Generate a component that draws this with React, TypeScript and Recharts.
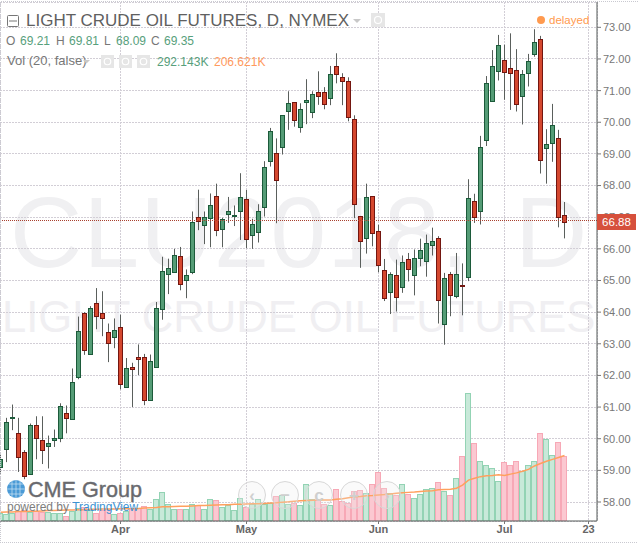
import React from "react";
import { ComposedChart, Bar, Line, XAxis, YAxis, CartesianGrid, ReferenceLine } from "recharts";

const opens = [59.1,59.68,60.66,60.19,59.59,58.88,60.44,59.97,59.77,59.96,60.02,60.82,60.63,61.95,63.98,62.68,64.3,63.98,63.38,63.21,63.54,61.64,62.27,62.59,62.59,61.22,62.27,64.11,65.2,65.26,65.78,65.01,65.26,67.01,66.75,66.97,67.67,66.62,67.09,67.04,67.18,67.59,66.44,66.53,67.32,68.77,69.04,69.21,70.34,70.63,69.84,70.63,70.32,70.95,70.95,70.76,71.77,71.42,71.29,70.09,67.04,66.34,67.67,66.57,65.34,64.63,65.18,64.8,65.68,65.17,65.72,65.61,66.13,66.35,63.63,65.21,64.51,64.86,65.12,67.51,67.19,69.43,70.66,71.61,71.96,71.71,71.64,70.82,71.55,72.15,72.62,69.18,69.33,69.49,67.06];
const highs = [59.5,60.66,61.08,60.66,59.64,60.48,60.71,60.71,60.1,60.29,61.12,61.05,62.22,63.86,64.0,64.19,64.76,64.66,63.64,63.8,63.92,62.55,62.4,62.98,62.68,62.66,64.32,65.75,65.69,66.0,66.06,65.35,67.18,67.87,67.18,67.75,68.06,66.98,67.64,67.37,68.39,67.86,66.95,67.41,68.77,69.82,69.49,70.22,70.98,70.63,70.6,71.36,70.98,71.61,71.11,71.78,72.18,71.55,71.42,70.22,67.04,68.06,67.67,66.76,65.68,65.26,65.66,65.79,65.87,65.98,66.32,66.45,66.67,66.4,65.24,65.27,65.87,65.54,68.2,67.74,69.57,71.46,72.28,72.76,72.45,72.81,72.31,71.65,72.16,72.94,72.73,69.78,70.58,69.76,67.48];
const lows = [58.9,59.26,60.27,58.95,58.72,58.88,59.35,59.2,59.06,59.74,59.89,60.17,60.63,61.88,62.65,62.68,63.46,63.24,62.42,62.86,61.56,61.64,61.0,62.01,61.06,61.22,62.27,63.76,64.57,65.26,64.69,64.44,65.2,66.59,66.15,66.05,66.4,66.05,66.82,66.72,66.28,66.02,66.0,66.2,67.02,68.6,66.81,68.98,69.76,69.86,69.67,69.94,70.13,70.55,70.41,70.54,71.23,70.54,70.03,66.97,65.4,65.85,66.08,65.26,64.35,63.94,64.02,64.61,64.97,64.53,65.45,65.12,65.79,63.64,62.97,63.87,64.44,63.9,64.98,66.82,66.77,69.25,70.66,71.32,70.71,70.39,70.34,69.93,71.13,72.07,68.38,68.06,68.75,66.68,66.33];
const closes = [59.35,60.54,60.68,59.42,58.82,60.42,60.02,59.64,59.87,60.03,61.02,60.65,61.8,63.41,62.8,64.14,63.87,63.81,63.03,63.44,61.73,62.24,62.21,62.53,61.22,62.46,64.14,65.31,65.38,65.81,64.88,65.18,66.86,66.87,67.01,67.39,66.6,66.95,67.2,67.07,67.63,66.31,66.79,67.19,68.58,69.72,68.17,70.22,70.6,70.06,70.41,70.69,70.88,70.82,70.57,71.52,71.52,71.29,70.16,67.42,66.25,67.64,66.49,65.48,64.45,65.21,64.48,65.59,65.36,65.72,65.97,66.19,66.25,64.38,65.08,64.54,65.21,64.82,67.61,67.01,69.23,71.23,71.77,72.43,71.58,71.55,70.59,71.52,71.93,72.53,68.82,69.31,69.91,67.02,66.84];
const volumes = [24,21,24,32,36,29,31,30,30,24,27,16,32,41,46,35,24,35,37,22,27,31,42,42,48,37,69,92,53,39,39,39,55,50,39,69,67,46,50,35,74,45,53,69,53,56,80,82,55,58,50,117,71,66,55,51,103,64,58,95,99,90,119,157,106,90,82,119,85,74,86,103,105,124,96,84,137,207,407,248,191,178,169,127,186,179,191,159,179,191,280,262,210,251,207];
const volumeAverage = [28,29,29,30,30,31,31,32,33,33,34,35,35,36,36,37,37,38,38,38,39,39,39,40,41,42,43,45,45,46,47,47,48,49,49,50,51,52,52,53,53,54,55,55,56,57,58,60,61,63,64,65,66,67,67,67,69,71,74,77,78,80,81,83,84,86,88,90,91,92,94,95,96,99,100,101,104,114,130,136,141,144,145,147,145,149,153,158,164,175,183,190,196,202,208];

const dateTicks = [20, 41, 63, 84, 98];
const dateLabels = ["Apr", "May", "Jun", "Jul", "23"];
const priceTicks = [58,59,60,61,62,63,64,65,66,67,68,69,70,71,72,73];
const lastPrice = 66.88;

const rows = opens.map((open, i) => ({
  i, open, high: highs[i], low: lows[i], close: closes[i], volume: volumes[i], average: volumeAverage[i],
}));

const FONT = "'Liberation Sans', Arial, sans-serif";
const X_DOMAIN: [number, number] = [-1 / 12, 99.5 - 1 / 12];

function Candle(props: any) {
  const { x, y, width, height, payload } = props;
  const { open, high, low, close } = payload;
  const toY = (p: number) => y + ((high - p) / (high - low)) * height;
  const cx = Math.floor(x + width / 2) + 0.5;
  const up = close >= open;
  const top = Math.round(toY(Math.max(open, close))) + 0.5;
  const bot = Math.max(Math.round(toY(Math.min(open, close))) + 0.5, top + 1);
  return (
    <g>
      <line x1={cx} x2={cx} y1={y} y2={y + height} stroke="#5a5f5c" strokeWidth={1} />
      <rect x={cx - 2} y={top} width={4} height={bot - top}
        fill={up ? "#559c76" : "#d5482f"} stroke={up ? "#1c5a3a" : "#731610"} strokeWidth={1} />
    </g>
  );
}

function VolumeBar(props: any) {
  const { x, y, width, height, payload } = props;
  const up = payload.close >= payload.open;
  const left = Math.floor(x + width / 2) - 2.5;
  const top = Math.round(y) + 0.5;
  return (
    <rect x={left} y={top} width={5} height={Math.max(height - 0.5, 0)}
      fill={up ? "#c8e9d9" : "#fbc8d1"} stroke={up ? "#93d3b4" : "#f7a8b6"} strokeWidth={1} />
  );
}

const iconBox = (x: number, y: number, s: number, key: string) => (
  <g key={key}>
    <rect x={x} y={y} width={s} height={s} fill="#e6e6e6" />
    <circle cx={x + s / 2} cy={y + s / 2} r={s / 4} fill="none" stroke="#fff" strokeWidth={1.2} />
  </g>
);

const zoomCircle = (cx: number, glyph: string) => (
  <g key={cx}>
    <circle cx={cx} cy={495} r={13.5} fill="rgba(235,235,235,0.25)" stroke="#d8d8d8" strokeWidth={1} />
    <text x={cx} y={501} textAnchor="middle" fontFamily={FONT} fontSize={17} fontWeight="bold" fill="#cfcfcf">{glyph}</text>
  </g>
);

export default function App() {
  return (
    <div style={{ position: "absolute", left: 0, top: 0, width: 638, height: 544, background: "#fff", overflow: "hidden" }}>
      <svg width={638} height={544} style={{ position: "absolute", left: 0, top: 0 }}>
        <text y={267} fontFamily={FONT} fontSize={100} letterSpacing={1.2} fill="#f0f0f2">
          <tspan x={10}>CLU2018,</tspan><tspan x={515}>D</tspan>
        </text>
        <text x={2} y={332} fontFamily={FONT} fontSize={43.6} fill="#f0eff2">LIGHT CRUDE OIL FUTURES</text>
      </svg>
      <div style={{ position: "absolute", left: 0, top: 0 }}>
        <ComposedChart width={638} height={544} data={rows} margin={{ top: 2, right: 0, bottom: 0, left: 0 }}>
          <CartesianGrid xAxisId="main" yAxisId="price" stroke="#d2ced6" strokeDasharray="2 1" shapeRendering="crispEdges" />
          <XAxis xAxisId="main" dataKey="i" type="number" domain={X_DOMAIN} allowDataOverflow
            ticks={dateTicks} tickFormatter={(v: number) => dateLabels[dateTicks.indexOf(v)]}
            height={23} interval={0} tickSize={3} tickMargin={1}
            axisLine={{ stroke: "#555a58" }} tickLine={{ stroke: "#777" }}
            tick={{ fontFamily: FONT, fontSize: 11, fontWeight: "bold", fill: "#666" }} />
          <XAxis xAxisId="vol" dataKey="i" type="number" domain={X_DOMAIN} allowDataOverflow hide />
          <YAxis yAxisId="price" orientation="right" type="number" domain={[57.4, 73.8]} allowDataOverflow
            ticks={priceTicks} tickFormatter={(v: number) => v.toFixed(2)} width={41} interval={0}
            tickSize={4} tickMargin={2} axisLine={{ stroke: "#555a58" }} tickLine={{ stroke: "#777" }}
            tick={{ fontFamily: FONT, fontSize: 11, fill: "#777" }} />
          <YAxis yAxisId="vol" orientation="left" type="number" domain={[0, 1650]} allowDataOverflow hide />
          <Bar xAxisId="vol" yAxisId="vol" dataKey="volume" barSize={6} shape={<VolumeBar />} isAnimationActive={false} />
          <Line xAxisId="vol" yAxisId="vol" dataKey="average" stroke="#ffa05e" strokeWidth={1.5} dot={false} isAnimationActive={false} />
          <Bar xAxisId="main" yAxisId="price" dataKey={(r: any) => [r.low, r.high]} barSize={6} shape={<Candle />} isAnimationActive={false} />
          <ReferenceLine xAxisId="main" yAxisId="price" y={lastPrice} stroke="#a8402e" strokeDasharray="1 1" shapeRendering="crispEdges" />
        </ComposedChart>
      </div>
      <svg width={638} height={544} style={{ position: "absolute", left: 0, top: 0, pointerEvents: "none" }}>
        <path d="M0.5 543V1.5H638" fill="none" stroke="#c9c9d0" strokeDasharray="1 1" />
        <path d="M0 542.5H638" stroke="#c9c9d0" strokeDasharray="1 1" />
        <rect x={597} y={214} width={39} height={16} fill="#d6503c" />
        <text x={616.5} y={226} textAnchor="middle" fontFamily={FONT} fontSize={11.5} fill="#fff">{lastPrice.toFixed(2)}</text>
        <rect x={7.5} y={15.5} width={11} height={11} rx={1} fill="none" stroke="#777" />
        <line x1={9} x2={17} y1={21} y2={21} stroke="#777" />
        <text x={26} y={26} fontFamily={FONT} fontSize={17} fill="#606060">LIGHT CRUDE OIL FUTURES, D, NYMEX</text>
        <path d="M353 19h8l-4 4z" fill="#c8c8c8" />
        {iconBox(371, 13, 14, "g0")}
        <circle cx={541} cy={20} r={4} fill="#ff9a4f" />
        <text x={549} y={24} fontFamily={FONT} fontSize={11.5} fill="#ff9a4f">delayed</text>
        <g fontFamily={FONT} fontSize={12}>
          <text x={6} y={45} fill="#777">O</text>
          <text x={20} y={45} fill="#57a07c">69.21</text>
          <text x={56} y={45} fill="#777">H</text>
          <text x={69} y={45} fill="#57a07c">69.81</text>
          <text x={104} y={45} fill="#777">L</text>
          <text x={116} y={45} fill="#57a07c">68.09</text>
          <text x={151} y={45} fill="#777">C</text>
          <text x={164} y={45} fill="#57a07c">69.35</text>
          <text x={7} y={65} fill="#777" fontSize={13}>Vol (20, false)</text>
          <text x={157} y={66} fill="#57a07c">292.143K</text>
          <text x={214} y={66} fill="#ff9a5e">206.621K</text>
        </g>
        <path d="M83 60h7l-3.5 3.5z" fill="#c8c8c8" />
        {iconBox(101, 55, 13, "g1")}
        {iconBox(119, 55, 13, "g2")}
        {iconBox(137, 55, 13, "g3")}
        <circle cx={16} cy={489} r={9} fill="#4a9ad6" />
        <path d="M7 489h18M16 480v18M9 484h14M9 494h14M12 481v16M20 481v16" stroke="#cfe5f5" strokeWidth={0.7} fill="none" />
        <text x={28} y={497} fontFamily={FONT} fontSize={21.6} fill="#696a6e" stroke="#696a6e" strokeWidth={0.4}>CME Group</text>
        <text x={7} y={511} fontFamily={FONT} fontSize={12}>
          <tspan fill="#7d7d7d">powered by </tspan><tspan fill="#3d92d2">TradingView</tspan>
        </text>
        {zoomCircle(252, "‹")}
        {zoomCircle(285, "−")}
        {zoomCircle(319, "c")}
        {zoomCircle(354, "+")}
        {zoomCircle(387, "›")}
      </svg>
    </div>
  );
}
